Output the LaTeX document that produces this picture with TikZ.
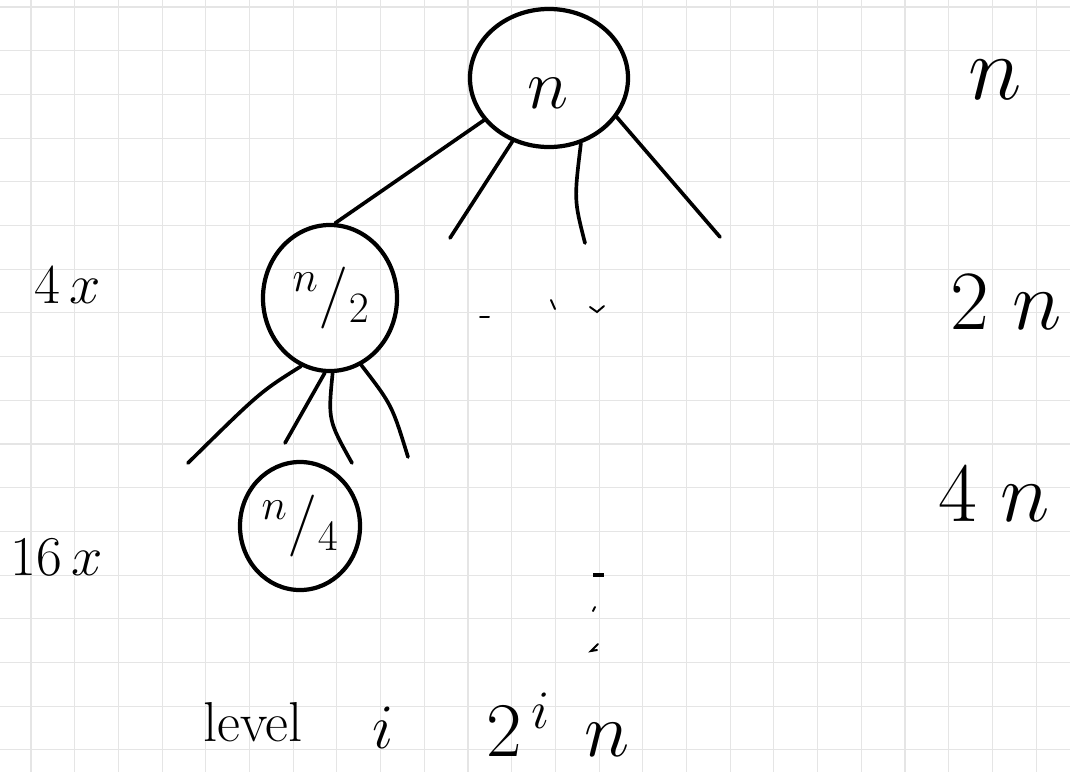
\RequirePackage{fix-cm}
\documentclass[tikz,border=0pt]{standalone}
\usetikzlibrary{shapes.geometric}

\begin{document}
\begin{tikzpicture}[x=0.025cm,y=-0.025cm,
    gridline/.style={draw=black!10,line width=0.8pt},
    ring/.style={draw,ellipse,line width=3pt,inner sep=0pt},
    branch/.style={line width=2.6pt,line cap=round},
    scribble/.style={line width=1.4pt,line cap=round},
    huge/.style={font=\fontsize{#1}{#1}\selectfont}]
    \useasboundingbox (0,0) rectangle (1070,772);
    % squared paper
    \foreach \k in {0,...,23}
        \draw[gridline] ({31+43.7*\k},0) -- ({31+43.7*\k},772);
    \foreach \k in {0,...,17}
        \draw[gridline] (0,{7+43.7*\k}) -- (1070,{7+43.7*\k});

    % tree
    \node[ring,minimum width=3.95cm,minimum height=3.45cm] (root) at (549,78) {};
    \node[huge=50] (rootlbl) at (548,93) {$n$};
    \node[ring,minimum width=3.35cm,minimum height=3.65cm] (half) at (330,298) {};
    \node[huge=44] (halflbl) at (331,298) {$^{n}/_{2}$};
    \node[ring,minimum width=3.0cm,minimum height=3.2cm] (quarter) at (300,526) {};
    \node[huge=44] (quarterlbl) at (300,526) {$^{n}/_{4}$};

    \coordinate (r2) at (450,238);
    \coordinate (r3) at (585,243);
    \coordinate (r4) at (720,237);
    \draw[branch] (root.213) -- (half.86);
    \draw[branch] (root.240) -- (r2);
    \draw[branch] (root.296) .. controls (574,200) .. (r3);
    \draw[branch] (root.330) -- (r4);

    \coordinate (h1) at (188,463);
    \coordinate (h2) at (285,443);
    \coordinate (h3) at (352,463);
    \coordinate (h4) at (408,457);
    \draw[branch] (half.247) .. controls (260,392) .. (h1);
    \draw[branch] (half.266) -- (h2);
    \draw[branch] (half.272) .. controls (328,420) .. (h3);
    \draw[branch] (half.295) .. controls (392,405) .. (h4);

    % dots
    \draw[scribble] (480,317) -- (489,317);
    \draw[scribble] (551,300) -- (555,309);
    \draw[scribble] (590,307) -- (597,312) -- (604,306);
    \draw[line width=2.6pt] (593,575) -- (604,575);
    \draw[scribble] (595,607) -- (593,611);
    \draw[scribble] (598,644) -- (591,651) -- (597,650);

    % counts and costs
    \node[huge=40] (four) at (68,285) {$4\,x$};
    \node[huge=40] (sixteen) at (57,557) {$16\,x$};
    \node[huge=65] (cost0) at (995,80) {$n$};
    \node[huge=60] (cost1) at (1006,302) {$2\;n$};
    \node[huge=60] (cost2) at (994,494) {$4\;n$};
    \node[huge=40] (level) at (253,722) {level};
    \node[huge=45] (levi) at (383,728) {$i$};
    \node[huge=55] (costi) at (558,725) {$2^{\,i}\;\,n$};
\end{tikzpicture}
\end{document}
